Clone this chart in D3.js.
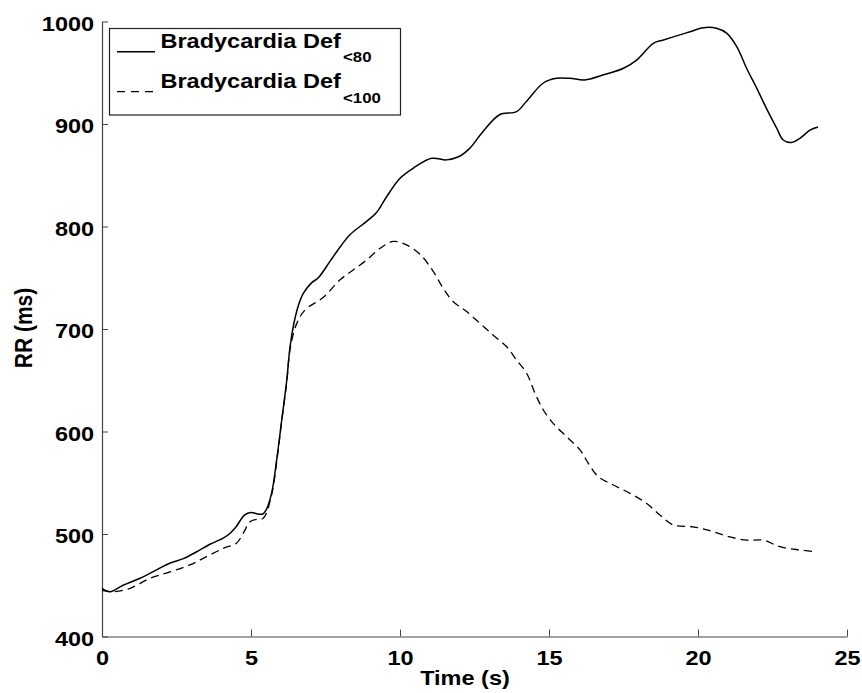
<!DOCTYPE html>
<html>
<head>
<meta charset="utf-8">
<script src="https://cdn.jsdelivr.net/npm/d3@7"></script>
<style>
  html, body { margin: 0; padding: 0; background: #fff; }
  svg { display: block; }
  text { font-family: "Liberation Sans", Arial, sans-serif; font-weight: bold; fill: #000; }
</style>
</head>
<body>
<svg id="chart" width="862" height="693"></svg>
<script>
// ---- Data ----
const timeDef80 = [0, 0.27, 0.71, 1.28, 1.83, 2.27, 2.73, 3.18, 3.62, 4.07, 4.3, 4.5, 4.78, 5.0, 5.23, 5.4, 5.5, 5.69, 5.86, 6.03, 6.2, 6.31, 6.44, 6.59, 6.76, 7.03, 7.26, 7.65, 7.99, 8.32, 8.88, 9.22, 9.55, 10.0, 10.45, 11.06, 11.56, 11.96, 12.33, 12.78, 13.34, 13.91, 14.24, 14.81, 15.25, 15.7, 16.2, 16.83, 17.5, 17.94, 18.5, 18.84, 19.28, 19.73, 20.18, 20.62, 20.96, 21.3, 21.63, 21.97, 22.3, 22.64, 22.86, 23.14, 23.42, 23.76, 24.03];
const rrDef80 = [447, 443.7, 450, 456.8, 465, 471.4, 476, 482.7, 490, 496, 500.7, 507, 518.5, 521, 519.5, 519.5, 523, 539.7, 572, 611, 650, 682.7, 705.6, 723, 735, 745, 750, 766, 780, 792, 805, 814, 829, 847, 857, 866.5, 865, 868, 876, 892.5, 909, 912, 922, 940, 944.6, 944.6, 943, 948, 954.4, 962.4, 978.7, 982, 986, 990, 994, 993.4, 988.6, 975.4, 954.4, 935, 915, 896, 884.4, 882, 886, 894, 897];

const timeDef100 = [0, 0.38, 0.94, 1.61, 2.28, 2.95, 3.51, 4.07, 4.51, 4.74, 4.97, 5.19, 5.41, 5.69, 5.86, 6.03, 6.2, 6.31, 6.53, 6.81, 7.43, 7.99, 8.43, 8.88, 9.33, 9.78, 10.22, 10.67, 11.12, 11.45, 11.79, 12.24, 12.68, 13.13, 13.58, 13.91, 14.25, 14.53, 14.81, 15.14, 15.59, 16.04, 16.32, 16.65, 17.16, 17.72, 18.27, 18.72, 19.17, 19.84, 20.4, 20.96, 21.63, 22.19, 22.75, 23.42, 23.98];
const rrDef100 = [445, 443.7, 447, 456.8, 463, 469.8, 478, 486, 491, 500.7, 512, 514.3, 515.3, 538, 570, 610, 648, 680, 705, 718.5, 731, 748, 757.6, 767.3, 778.7, 785.5, 782, 773, 756, 739.7, 726.6, 717, 705.6, 694, 682.7, 669.8, 656.8, 637.3, 621, 608, 595, 582, 569, 556, 547.8, 539.7, 530, 518.5, 508.8, 507, 503.2, 498, 494, 494, 487.6, 484.4, 482.7];

const xTicks = [0, 5, 10, 15, 20, 25];
const yTicks = [400, 500, 600, 700, 800, 900, 1000];
const seriesNames = ["Bradycardia Def", "Bradycardia Def"];
const seriesSubs = ["<80", "<100"];
const xLabel = "Time (s)";
const yLabel = "RR (ms)";

// ---- Layout ----
const STRETCH = 1.12;
const svg = d3.select("#chart");
const x = d3.scaleLinear().domain([0, 25]).range([102, 847]);
const y = d3.scaleLinear().domain([400, 1000]).range([636.5, 21.5]);

// axes
const xAxis = d3.axisBottom(x).tickValues(xTicks).tickSizeInner(-7).tickSizeOuter(0).tickPadding(13.5).tickFormat(d3.format("d"));
const yAxis = d3.axisLeft(y).tickValues(yTicks).tickSizeInner(-6).tickSizeOuter(0).tickPadding(7).tickFormat(d3.format("d"));

const gx = svg.append("g").attr("transform", `translate(0,${y(400)})`).call(xAxis);
const gy = svg.append("g").attr("transform", `translate(${x(0)},0)`).call(yAxis);

[gx, gy].forEach(g => {
  g.select(".domain").attr("stroke", "#444").attr("stroke-width", 1.2);
  g.selectAll(".tick line").attr("stroke", "#444").attr("stroke-width", 1);
  g.selectAll(".tick text")
    .attr("font-size", 21)
    .attr("font-family", "Liberation Sans, Arial, sans-serif")
    .attr("font-weight", "bold")
    .attr("fill", "#000")
    .attr("transform", `scale(${STRETCH},1)`);
});
gy.selectAll(".tick text").attr("dy", "0.42em");

// lines
const line = d3.line().x(d => x(d[0])).y(d => y(d[1])).curve(d3.curveCatmullRom.alpha(0.5));
const solidData = timeDef80.map((t, i) => [t, rrDef80[i]]);
const dashData = timeDef100.map((t, i) => [t, rrDef100[i]]);

svg.append("path").datum(dashData).attr("d", line)
  .attr("fill", "none").attr("stroke", "#000").attr("stroke-width", 1.3)
  .attr("stroke-dasharray", "8,5");
svg.append("path").datum(solidData).attr("d", line)
  .attr("fill", "none").attr("stroke", "#000").attr("stroke-width", 1.5);

// axis titles
svg.append("text")
  .attr("transform", `translate(465,685) scale(${STRETCH},1)`)
  .attr("text-anchor", "middle").attr("font-size", 21)
  .text(xLabel);
svg.append("text")
  .attr("transform", `translate(32,328) scale(${STRETCH},1) rotate(-90)`)
  .attr("text-anchor", "middle").attr("font-size", 21)
  .text(yLabel);

// legend
const lg = svg.append("g");
lg.append("rect").attr("x", 109.5).attr("y", 28.5).attr("width", 291).attr("height", 86.5)
  .attr("fill", "#fff").attr("stroke", "#222").attr("stroke-width", 1.2);
const rows = [
  { sample: 51.7, base: 47.5, dash: null },
  { sample: 91.7, base: 88, dash: "8,6" }
];
rows.forEach((r, i) => {
  const l = lg.append("line").attr("x1", 117).attr("x2", 155)
    .attr("y1", r.sample).attr("y2", r.sample)
    .attr("stroke", "#000").attr("stroke-width", i === 0 ? 1.5 : 1.3);
  if (r.dash) l.attr("stroke-dasharray", r.dash);
  const t = lg.append("text")
    .attr("transform", `translate(160.5,${r.base}) scale(${STRETCH},1)`)
    .attr("font-size", 21);
  t.append("tspan").text(seriesNames[i]);
  t.append("tspan").attr("font-size", 15).attr("dx", 2).attr("dy", 15).text(seriesSubs[i]);
});
</script>
</body>
</html>
